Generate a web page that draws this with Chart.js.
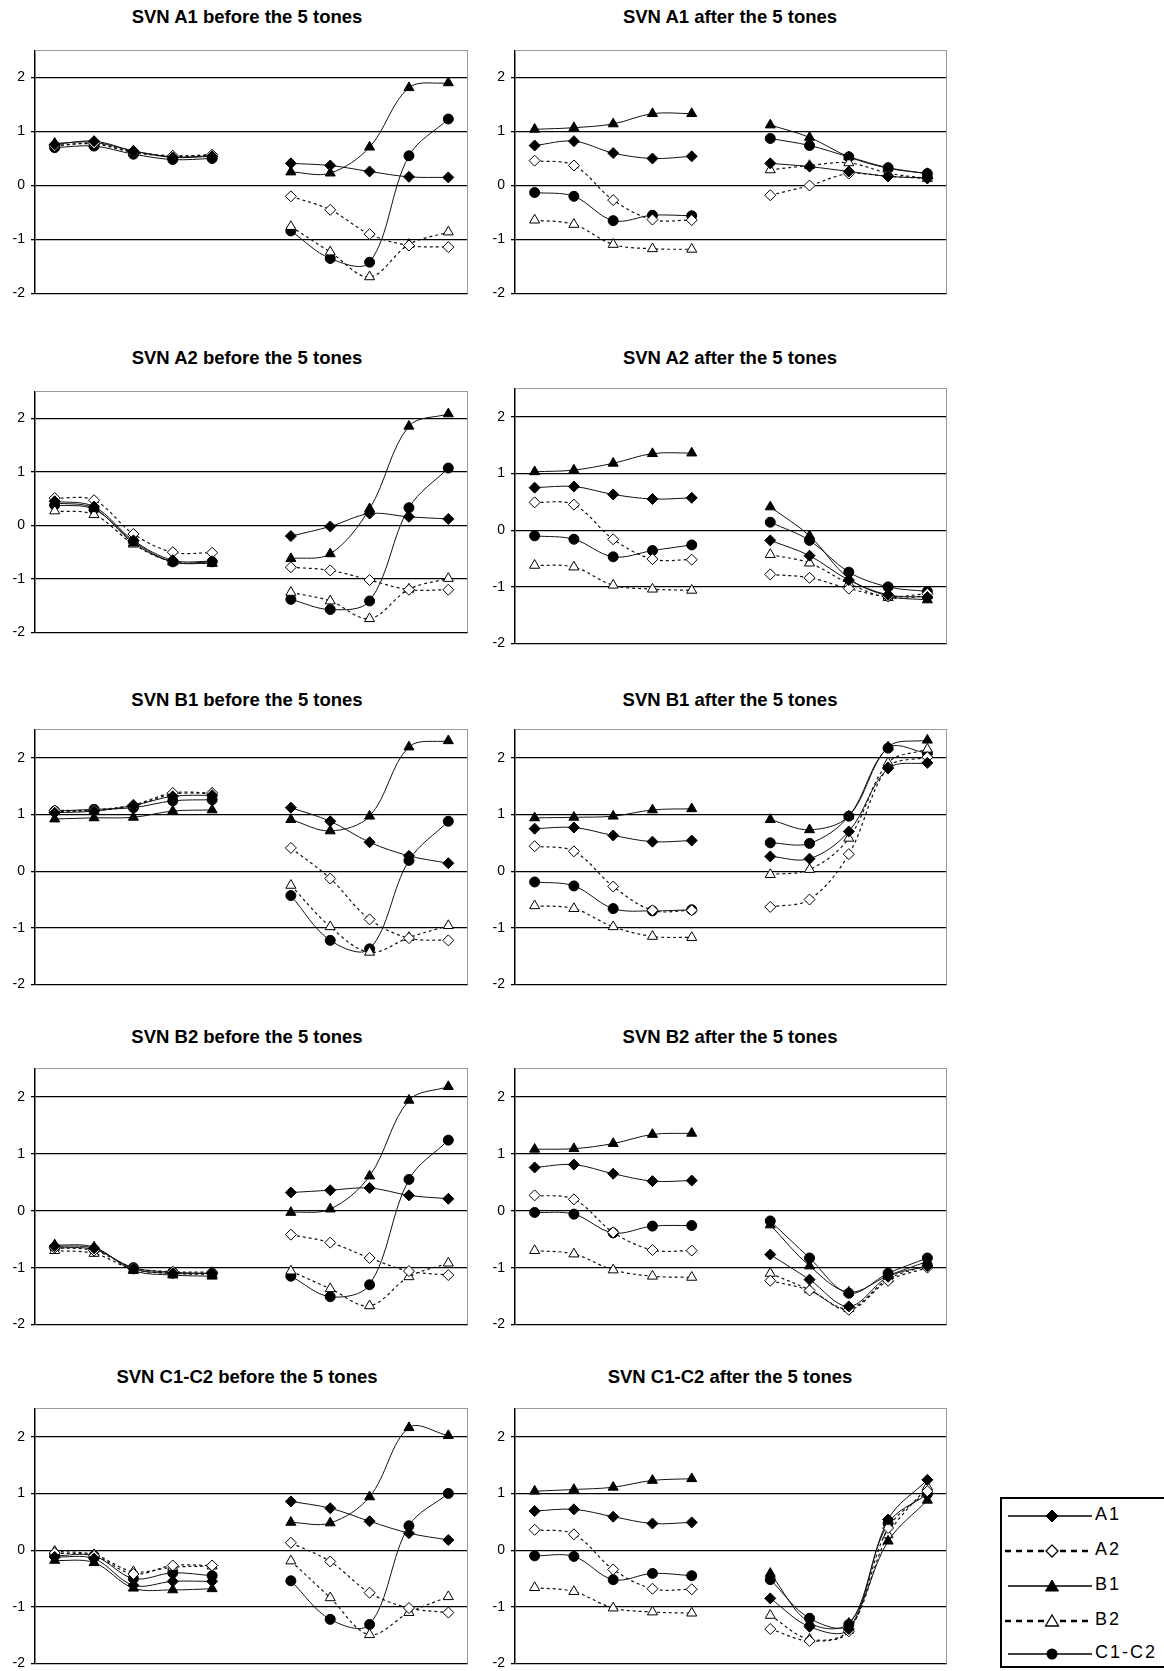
<!DOCTYPE html>
<html>
<head>
<meta charset="utf-8">
<script src="https://cdn.jsdelivr.net/npm/chart.js@4/dist/chart.umd.min.js"></script>
<style>
  html, body { margin:0; padding:0; background:#fff; }
  body { width:1164px; height:1671px; position:relative; overflow:hidden; font-family:"Liberation Sans", Arial, sans-serif; }
  .title { position:absolute; font-weight:bold; font-size:18.5px; color:#000; white-space:nowrap; transform:translate(-50%,-50%); }
  canvas { position:absolute; }
  #legend { position:absolute; left:1000px; top:1497px; width:200px; height:171px; border:2px solid #000; box-sizing:border-box; background:#fff; }
  #legend .row { position:absolute; left:0; height:30px; width:200px; }
  #legend .row span { position:absolute; left:93px; top:3px; font-size:18px; letter-spacing:2px; color:#000; }
</style>
</head>
<body>
<script>
// ---- categories: 5 positions, a gap, 5 positions ----
const categories = ['1','2','3','4','5','','1','2','3','4','5'];
const seriesNames = ['A1','A2','B1','B2','C1-C2'];
const yTicks = [-2, -1, 0, 1, 2];

// ---- SVN A1 before ----
const a1Before_A1 = [0.76,0.82,0.64,0.52,0.54,null,0.41,0.37,0.26,0.16,0.15];
const a1Before_A2 = [0.73,0.78,0.62,0.55,0.57,null,-0.20,-0.45,-0.90,-1.11,-1.14];
const a1Before_B1 = [0.78,0.80,0.64,0.53,0.55,null,0.25,0.23,0.71,1.81,1.90];
const a1Before_B2 = [0.74,0.77,0.61,0.54,0.56,null,-0.76,-1.23,-1.69,-1.09,-0.86];
const a1Before_C  = [0.70,0.73,0.58,0.48,0.50,null,-0.84,-1.35,-1.42,0.55,1.23];
// ---- SVN A1 after ----
const a1After_A1 = [0.74,0.82,0.60,0.50,0.54,null,0.41,0.35,0.26,0.17,0.14];
const a1After_A2 = [0.46,0.37,-0.27,-0.63,-0.64,null,-0.18,0.00,0.22,0.17,0.13];
const a1After_B1 = [1.04,1.07,1.14,1.33,1.33,null,1.12,0.89,0.53,0.32,0.22];
const a1After_B2 = [-0.64,-0.72,-1.09,-1.17,-1.18,null,0.29,0.37,0.42,0.23,0.13];
const a1After_C  = [-0.13,-0.20,-0.65,-0.55,-0.56,null,0.87,0.74,0.53,0.33,0.22];
// ---- SVN A2 before ----
const a2Before_A1 = [0.45,0.35,-0.28,-0.65,-0.67,null,-0.20,-0.02,0.22,0.16,0.12];
const a2Before_A2 = [0.51,0.47,-0.16,-0.50,-0.51,null,-0.78,-0.84,-1.02,-1.20,-1.20];
const a2Before_B1 = [0.42,0.32,-0.33,-0.68,-0.71,null,-0.62,-0.53,0.31,1.85,2.08];
const a2Before_B2 = [0.27,0.20,-0.35,-0.68,-0.70,null,-1.25,-1.41,-1.74,-1.19,-0.99];
const a2Before_C  = [0.38,0.30,-0.30,-0.68,-0.68,null,-1.38,-1.57,-1.41,0.33,1.07];
// ---- SVN A2 after ----
const a2After_A1 = [0.75,0.77,0.63,0.55,0.57,null,-0.18,-0.45,-0.88,-1.14,-1.18];
const a2After_A2 = [0.49,0.45,-0.16,-0.51,-0.52,null,-0.78,-0.84,-1.03,-1.17,-1.12];
const a2After_B1 = [1.03,1.06,1.18,1.35,1.36,null,0.41,-0.10,-0.85,-1.16,-1.23];
const a2After_B2 = [-0.62,-0.65,-0.97,-1.04,-1.06,null,-0.43,-0.58,-0.94,-1.19,-1.16];
const a2After_C  = [-0.10,-0.16,-0.47,-0.36,-0.26,null,0.14,-0.18,-0.74,-1.00,-1.08];
// ---- SVN B1 before ----
const b1Before_A1 = [1.03,1.06,1.16,1.32,1.34,null,1.12,0.88,0.51,0.27,0.14];
const b1Before_A2 = [1.07,1.08,1.17,1.38,1.38,null,0.41,-0.13,-0.85,-1.18,-1.22];
const b1Before_B1 = [0.92,0.94,0.95,1.06,1.08,null,0.91,0.71,0.97,2.19,2.30];
const b1Before_B2 = [1.05,1.07,1.15,1.36,1.37,null,-0.25,-0.98,-1.43,-1.17,-0.96];
const b1Before_C  = [1.06,1.09,1.12,1.24,1.26,null,-0.43,-1.22,-1.37,0.19,0.88];
// ---- SVN B1 after ----
const b1After_A1 = [0.75,0.77,0.63,0.52,0.54,null,0.26,0.22,0.70,1.81,1.91];
const b1After_A2 = [0.44,0.35,-0.27,-0.69,-0.69,null,-0.63,-0.50,0.30,1.83,2.01];
const b1After_B1 = [0.94,0.95,0.97,1.08,1.10,null,0.91,0.73,0.97,2.19,2.31];
const b1After_B2 = [-0.61,-0.66,-0.98,-1.15,-1.17,null,-0.06,0.03,0.58,1.91,2.15];
const b1After_C  = [-0.19,-0.26,-0.66,-0.70,-0.68,null,0.50,0.49,0.97,2.17,2.08];
// ---- SVN B2 before ----
const b2Before_A1 = [-0.62,-0.66,-1.02,-1.10,-1.10,null,0.32,0.36,0.40,0.27,0.21];
const b2Before_A2 = [-0.65,-0.70,-1.00,-1.07,-1.08,null,-0.42,-0.56,-0.83,-1.06,-1.13];
const b2Before_B1 = [-0.60,-0.64,-1.05,-1.13,-1.15,null,-0.03,0.03,0.61,1.94,2.18];
const b2Before_B2 = [-0.70,-0.75,-1.03,-1.10,-1.12,null,-1.06,-1.37,-1.67,-1.16,-0.92];
const b2Before_C  = [-0.65,-0.68,-1.00,-1.08,-1.10,null,-1.15,-1.51,-1.30,0.55,1.24];
// ---- SVN B2 after ----
const b2After_A1 = [0.76,0.81,0.65,0.52,0.53,null,-0.77,-1.21,-1.68,-1.16,-0.97];
const b2After_A2 = [0.27,0.20,-0.38,-0.69,-0.70,null,-1.23,-1.40,-1.74,-1.23,-1.00];
const b2After_B1 = [1.08,1.09,1.18,1.34,1.36,null,-0.25,-0.97,-1.43,-1.14,-0.89];
const b2After_B2 = [-0.70,-0.76,-1.04,-1.15,-1.17,null,-1.10,-1.39,-1.72,-1.20,-0.96];
const b2After_C  = [-0.03,-0.06,-0.39,-0.27,-0.26,null,-0.18,-0.83,-1.45,-1.10,-0.83];
// ---- SVN C1-C2 before ----
const cBefore_A1 = [-0.12,-0.15,-0.62,-0.55,-0.55,null,0.86,0.74,0.51,0.30,0.18];
const cBefore_A2 = [-0.05,-0.10,-0.42,-0.27,-0.27,null,0.13,-0.20,-0.75,-1.02,-1.10];
const cBefore_B1 = [-0.18,-0.22,-0.67,-0.70,-0.68,null,0.49,0.48,0.94,2.16,2.02];
const cBefore_B2 = [-0.02,-0.08,-0.38,-0.30,-0.28,null,-0.19,-0.84,-1.49,-1.10,-0.82];
const cBefore_C  = [-0.10,-0.10,-0.50,-0.40,-0.45,null,-0.54,-1.22,-1.31,0.43,1.00];
// ---- SVN C1-C2 after ----
const cAfter_A1 = [0.69,0.72,0.59,0.47,0.49,null,-0.85,-1.35,-1.39,0.54,1.24];
const cAfter_A2 = [0.36,0.28,-0.34,-0.68,-0.69,null,-1.39,-1.60,-1.43,0.39,1.04];
const cAfter_B1 = [1.04,1.07,1.11,1.23,1.26,null,-0.41,-1.28,-1.29,0.16,0.88];
const cAfter_B2 = [-0.66,-0.73,-1.02,-1.09,-1.11,null,-1.15,-1.57,-1.41,0.27,1.12];
const cAfter_C  = [-0.10,-0.11,-0.52,-0.41,-0.45,null,-0.52,-1.20,-1.31,0.47,0.99];

const panelTitles = [
  'SVN A1 before the 5 tones','SVN A1 after the 5 tones',
  'SVN A2 before the 5 tones','SVN A2 after the 5 tones',
  'SVN B1 before the 5 tones','SVN B1 after the 5 tones',
  'SVN B2 before the 5 tones','SVN B2 after the 5 tones',
  'SVN C1-C2 before the 5 tones','SVN C1-C2 after the 5 tones'
];
const panelSeries = [
  [a1Before_A1,a1Before_A2,a1Before_B1,a1Before_B2,a1Before_C],
  [a1After_A1,a1After_A2,a1After_B1,a1After_B2,a1After_C],
  [a2Before_A1,a2Before_A2,a2Before_B1,a2Before_B2,a2Before_C],
  [a2After_A1,a2After_A2,a2After_B1,a2After_B2,a2After_C],
  [b1Before_A1,b1Before_A2,b1Before_B1,b1Before_B2,b1Before_C],
  [b1After_A1,b1After_A2,b1After_B1,b1After_B2,b1After_C],
  [b2Before_A1,b2Before_A2,b2Before_B1,b2Before_B2,b2Before_C],
  [b2After_A1,b2After_A2,b2After_B1,b2After_B2,b2After_C],
  [cBefore_A1,cBefore_A2,cBefore_B1,cBefore_B2,cBefore_C],
  [cAfter_A1,cAfter_A2,cAfter_B1,cAfter_B2,cAfter_C]
];

// ---- layout (plot-area rectangles in page pixels) ----
const layout = [
  {l:35,  r:468, t:46,   b:298,  tx:247, ty:17},
  {l:515, r:947, t:46,   b:298,  tx:730, ty:17},
  {l:35,  r:468, t:387,  b:637,  tx:247, ty:358},
  {l:515, r:947, t:384,  b:648,  tx:730, ty:358},
  {l:35,  r:468, t:725,  b:989,  tx:247, ty:700},
  {l:515, r:947, t:725,  b:989,  tx:730, ty:700},
  {l:35,  r:468, t:1064, b:1329, tx:247, ty:1037},
  {l:515, r:947, t:1064, b:1329, tx:730, ty:1037},
  {l:35,  r:468, t:1404, b:1668, tx:247, ty:1377},
  {l:515, r:947, t:1404, b:1668, tx:730, ty:1377}
];

const styles = [
  {style:'rectRot',  fill:'#000', dash:[],    radius:5.5, width:1},
  {style:'rectRot',  fill:'#fff', dash:[3,3], radius:5.5, width:1.2},
  {style:'triangle', fill:'#000', dash:[],    radius:5.8, width:1},
  {style:'triangle', fill:'#fff', dash:[3,3], radius:5.8, width:1.2},
  {style:'circle',   fill:'#000', dash:[],    radius:5,   width:1}
];

Chart.defaults.font.family = '"Liberation Sans", Arial, sans-serif';
Chart.defaults.color = '#000';

const frame = {
  id:'frame',
  beforeDatasetsDraw(chart){
    const a = chart.chartArea, ctx = chart.ctx;
    ctx.save();
    ctx.strokeStyle = '#9a9a9a';
    ctx.lineWidth = 1;
    ctx.beginPath();
    ctx.moveTo(a.left, Math.round(a.top)+0.5);
    ctx.lineTo(a.right, Math.round(a.top)+0.5);
    ctx.moveTo(Math.round(a.right)-0.5, a.top);
    ctx.lineTo(Math.round(a.right)-0.5, a.bottom);
    ctx.stroke();
    ctx.restore();
  }
};

layout.forEach((L, i) => {
  const t = document.createElement('div');
  t.className = 'title';
  t.textContent = panelTitles[i];
  t.style.left = L.tx + 'px';
  t.style.top = L.ty + 'px';
  document.body.appendChild(t);

  const c = document.createElement('canvas');
  const w = L.r - L.l + 45, h = L.b - L.t + 20;
  c.width = w; c.height = h;
  c.style.left = (L.l - 35) + 'px';
  c.style.top = (L.t - 10) + 'px';
  c.style.width = w + 'px'; c.style.height = h + 'px';
  document.body.appendChild(c);

  const datasets = panelSeries[i].map((d, k) => ({
    label: seriesNames[k],
    data: d,
    borderColor: '#111',
    borderWidth: styles[k].width,
    borderDash: styles[k].dash,
    pointStyle: styles[k].style,
    pointRadius: styles[k].radius,
    pointBackgroundColor: styles[k].fill,
    pointBorderColor: '#000',
    pointBorderWidth: 1,
    tension: 0.35,
    spanGaps: false,
    fill: false
  }));

  new Chart(c, {
    type:'line',
    data:{ labels: categories, datasets },
    options:{
      responsive:false, animation:false, devicePixelRatio:1,
      layout:{ padding:{ left:5, right:10, top:10, bottom:10 } },
      plugins:{ legend:{display:false}, tooltip:{enabled:false}, title:{display:false} },
      events: [],
      scales:{
        x:{ type:'category', display:false, offset:true },
        y:{
          min:-2, max:2.5,
          afterBuildTicks(scale){ scale.ticks = yTicks.map(v => ({value:v})); },
          afterFit(scale){ scale.width = 30; },
          ticks:{ font:{size:14}, color:'#000', padding:6 },
          grid:{ color:'#000', lineWidth:1.3, drawTicks:true, tickLength:4, tickColor:'#000' },
          border:{ display:true, color:'#000', width:1.5 }
        }
      }
    },
    plugins:[frame]
  });
});
</script>
<div id="legend">
  <div class="row" style="top:2px">
    <svg width="95" height="30" style="position:absolute;left:0;top:0"><line x1="6" y1="15" x2="90" y2="15" stroke="#000" stroke-width="1.5"/><polygon points="50,9 56,15 50,21 44,15" fill="#000" stroke="#000"/></svg>
    <span>A1</span>
  </div>
  <div class="row" style="top:37px">
    <svg width="95" height="30" style="position:absolute;left:0;top:0"><line x1="3" y1="15" x2="90" y2="15" stroke="#000" stroke-width="2.5" stroke-dasharray="6,5"/><polygon points="50,9 56,15 50,21 44,15" fill="#fff" stroke="#000" stroke-width="1.3"/></svg>
    <span>A2</span>
  </div>
  <div class="row" style="top:72px">
    <svg width="95" height="30" style="position:absolute;left:0;top:0"><line x1="6" y1="15" x2="90" y2="15" stroke="#000" stroke-width="1.5"/><polygon points="50,9 56.5,20 43.5,20" fill="#000" stroke="#000"/></svg>
    <span>B1</span>
  </div>
  <div class="row" style="top:107px">
    <svg width="95" height="30" style="position:absolute;left:0;top:0"><line x1="3" y1="15" x2="90" y2="15" stroke="#000" stroke-width="2.5" stroke-dasharray="6,5"/><polygon points="50,9 56.5,20 43.5,20" fill="#fff" stroke="#000" stroke-width="1.3"/></svg>
    <span>B2</span>
  </div>
  <div class="row" style="top:140px">
    <svg width="95" height="30" style="position:absolute;left:0;top:0"><line x1="6" y1="15" x2="90" y2="15" stroke="#000" stroke-width="1.5"/><circle cx="50" cy="15" r="5.5" fill="#000"/></svg>
    <span>C1-C2</span>
  </div>
</div>
</body>
</html>
